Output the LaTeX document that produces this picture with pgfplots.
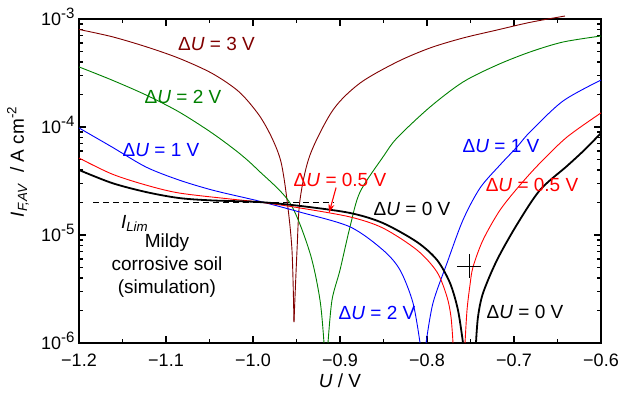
\documentclass[border=0pt]{standalone}
\usepackage{pgfplots}
\pgfplotsset{compat=1.18}
\usepackage{fontspec}
\setmainfont{Liberation Sans}
\usetikzlibrary{arrows.meta}
\definecolor{cDR}{RGB}{128,0,0}
\definecolor{cG}{RGB}{0,128,0}
\definecolor{cB}{RGB}{0,0,255}
\definecolor{cR}{RGB}{255,0,0}
\newcommand{\lab}{\fontsize{19bp}{23bp}\selectfont}
\newcommand{\tlab}{\fontsize{18bp}{21bp}\selectfont}
\newcommand{\sexp}[1]{\raisebox{7bp}{\fontsize{15bp}{15bp}\selectfont #1}}
\begin{document}
\begin{tikzpicture}
\begin{axis}[
  name=ax,
  width=522bp, height=324bp, scale only axis,
  xmin=-1.2, xmax=-0.6, ymin=1e-6, ymax=1e-3, ymode=log,
  xtick={-1.2,-1.1,-1.0,-0.9,-0.8,-0.7,-0.6},
  xticklabels={−1.2,−1.1,−1.0,−0.9,−0.8,−0.7,−0.6},
  minor xtick={-1.15,-1.05,-0.95,-0.85,-0.75,-0.65},
  ytick={1e-6,1e-5,1e-4,1e-3},
  yticklabels={10\sexp{-6},10\sexp{-5},10\sexp{-4},10\sexp{-3}},
  tick align=inside, major tick length=7bp, minor tick length=4bp,
  axis line style={line width=1.5bp},
  every tick/.style={black, line width=1.2bp},
  ticklabel style={font=\tlab},
  xticklabel style={anchor=base, yshift=-23bp},
  yticklabel style={anchor=base east, yshift=-6.5bp, xshift=-1bp},
  xlabel={\textit{U} / V},
  ylabel={\textit{I}\textsubscript{\textit{F,AV}}\ \ / A cm\textsuperscript{-2}},
  label style={font=\lab},
  xlabel style={at={(axis description cs:0.5,-0.117)}, anchor=center},
  ylabel style={at={(axis description cs:-0.117,0.559)}, anchor=center, rotate=0},
  clip=false,
  every axis plot/.append style={line join=round},
]
% dashed I_Lim
\addplot[black, line width=1.1bp, dash pattern=on 6bp off 4bp] coordinates {(-1.1839,2e-5) (-0.908,2e-5)};
% dU = 3 V (dark red)
\addplot[cDR, line width=0.9bp, smooth] coordinates {
(-1.2,8.0e-4) (-1.1621,6.86e-4) (-1.1230,5.54e-4) (-1.0851,4.33e-4) (-1.0471,3.14e-4)
(-1.0161,2.12e-4) (-0.9931,1.29e-4) (-0.9782,7.91e-5) (-0.9678,4.74e-5) (-0.9609,2.11e-5)
(-0.9552,7.26e-6) (-0.9529,1.56e-6)};
\addplot[cDR, line width=0.9bp, smooth] coordinates {
(-0.9529,1.56e-6) (-0.9494,7.26e-6) (-0.9460,2.11e-5) (-0.9345,5.5e-5) (-0.9080,1.44e-4)
(-0.8770,2.55e-4) (-0.8345,4.0e-4) (-0.7966,5.39e-4) (-0.7586,6.67e-4) (-0.7195,7.91e-4)
(-0.6816,9.31e-4) (-0.6414,1.066e-3)};
% dU = 2 V (green)
\addplot[cG, line width=0.9bp, smooth] coordinates {
(-1.2,3.6e-4) (-1.1621,2.72e-4) (-1.1230,1.98e-4) (-1.0851,1.38e-4) (-1.0471,8.8e-5)
(-1.0161,5.74e-5) (-0.9943,4.0e-5) (-0.9575,1.98e-5) (-0.9345,6.81e-6) (-0.9230,2.5e-6)
(-0.9184,1e-6)};
\addplot[cG, line width=0.9bp, smooth] coordinates {
(-0.9138,1e-6) (-0.9092,2.5e-6) (-0.9000,4.74e-6) (-0.8885,1.19e-5) (-0.8770,2.5e-5)
(-0.8506,5.28e-5) (-0.8345,7.91e-5) (-0.7966,1.53e-4) (-0.7586,2.61e-4) (-0.7195,3.75e-4)
(-0.6816,4.95e-4) (-0.6437,6.12e-4) (-0.6,6.96e-4)};
% dU = 1 V (blue)
\addplot[cB, line width=0.9bp, smooth] coordinates {
(-1.2,9.8e-5) (-1.1621,6.53e-5) (-1.1230,4.26e-5) (-1.0851,3.23e-5) (-1.0471,2.61e-5)
(-1.0080,2.2e-5) (-0.9931,2.06e-5) (-0.9460,1.63e-5) (-0.8885,1.19e-5) (-0.8506,7.26e-6)
(-0.8310,4.74e-6) (-0.8161,2.35e-6) (-0.8080,1e-6)};
\addplot[cB, line width=0.9bp, smooth] coordinates {
(-0.8011,1e-6) (-0.7931,2.35e-6) (-0.7770,5.5e-6) (-0.7586,1.38e-5) (-0.7391,2.72e-5)
(-0.7161,4.45e-5) (-0.6966,6.53e-5) (-0.6816,9.0e-5) (-0.6437,1.74e-4) (-0.6,2.72e-4)};
% dU = 0.5 V (red)
\addplot[cR, line width=0.9bp, smooth] coordinates {
(-1.2,5.16e-5) (-1.1621,3.67e-5) (-1.1230,2.9e-5) (-1.0851,2.45e-5) (-1.0276,2.16e-5)
(-0.9931,2.02e-5) (-0.9460,1.78e-5) (-0.8885,1.47e-5) (-0.8506,1.16e-5) (-0.8115,7.26e-6)
(-0.7885,4.54e-6) (-0.7770,2.67e-6) (-0.7724,1.74e-6) (-0.7701,1e-6)};
\addplot[cR, line width=0.9bp, smooth] coordinates {
(-0.7563,1e-6) (-0.7540,2.02e-6) (-0.7506,3.44e-6) (-0.7471,5.06e-6) (-0.7356,9.0e-6)
(-0.7161,1.7e-5) (-0.6931,2.9e-5) (-0.6701,4.64e-5) (-0.6391,8.07e-5) (-0.6,1.35e-4)};
% dU = 0 V (black)
\addplot[black, line width=1.8bp, smooth] coordinates {
(-1.2,4.0e-5) (-1.1621,3.03e-5) (-1.1230,2.5e-5) (-1.0851,2.2e-5) (-1.0471,2.09e-5)
(-0.9931,2.02e-5) (-0.9460,1.86e-5) (-0.8885,1.6e-5) (-0.8506,1.29e-5) (-0.8115,8.61e-6)
(-0.7885,5.87e-6) (-0.7736,3.6e-6) (-0.7644,2.02e-6) (-0.7586,1e-6)};
\addplot[black, line width=1.8bp, smooth] coordinates {
(-0.7437,1e-6) (-0.7414,1.74e-6) (-0.7356,2.9e-6) (-0.7195,5.87e-6) (-0.6966,1.25e-5)
(-0.6701,2.61e-5) (-0.6391,4.35e-5) (-0.6184,6.2e-5) (-0.6,8.8e-5)};
% cross marker
\addplot[black, only marks, mark=+, mark size=12bp, mark options={line width=1bp}] coordinates {(-0.7517,5.16e-6)};
% labels
\node[text=cDR, font=\lab] at (axis cs:-1.042,5.87e-4) {Δ\textit{U} = 3 V};
\node[text=cG, font=\lab] at (axis cs:-1.0805,1.90e-4) {Δ\textit{U} = 2 V};
\node[text=cB, font=\lab] at (axis cs:-1.1057,6.12e-5) {Δ\textit{U} = 1 V};
\node[text=cR, font=\lab] at (axis cs:-0.9,3.23e-5) {Δ\textit{U} = 0.5 V};
\node[text=black, font=\lab] at (axis cs:-0.8172,1.74e-5) {Δ\textit{U} = 0 V};
\node[text=cB, font=\lab] at (axis cs:-0.715,6.67e-5) {Δ\textit{U} = 1 V};
\node[text=cR, font=\lab] at (axis cs:-0.6793,2.9e-5) {Δ\textit{U} = 0.5 V};
\node[text=cB, font=\lab] at (axis cs:-0.8575,1.9e-6) {Δ\textit{U} = 2 V};
\node[text=black, font=\lab] at (axis cs:-0.6874,1.94e-6) {Δ\textit{U} = 0 V};
\node[font=\lab] at (axis cs:-1.136,1.28e-5) {\textit{I}\textsubscript{\textit{Lim}}};
\node[font=\lab, align=center] at (axis cs:-1.0989,5.2e-6) {Mildy\\corrosive soil\\(simulation)};
\draw[cR, line width=1.1bp, -{Stealth[length=9bp,width=6bp]}] (axis cs:-0.9045,2.75e-5) -- (axis cs:-0.9126,1.6e-5);
\end{axis}
\pgfresetboundingbox
\path[use as bounding box] ([xshift=-79bp,yshift=-51bp]ax.south west) rectangle ([xshift=18bp,yshift=19bp]ax.north east);
\end{tikzpicture}
\end{document}
